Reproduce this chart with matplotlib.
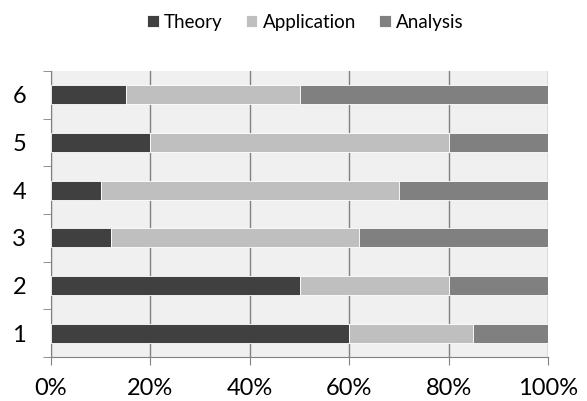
import numpy as np
import matplotlib
matplotlib.use("Agg")
import matplotlib.pyplot as plt
from matplotlib.ticker import FixedLocator, PercentFormatter

categories = ["1", "2", "3", "4", "5", "6"]
theory = [60, 50, 12, 10, 20, 15]
application = [25, 30, 50, 60, 60, 35]
analysis = [15, 20, 38, 30, 20, 50]

series = [
    ("Theory", theory, "#404040"),
    ("Application", application, "#bfbfbf"),
    ("Analysis", analysis, "#808080"),
]

plt.rcParams["font.family"] = ["Lato", "DejaVu Sans"]

fig = plt.figure(figsize=(5.87, 4.01), dpi=100)
ax = fig.add_axes([0.0869, 0.1097, 0.8467, 0.7132])
ax.set_facecolor("#f0f0f0")

y = np.arange(1, len(categories) + 1)
left = np.zeros(len(categories))
for name, vals, color in series:
    vals = np.array(vals, dtype=float)
    ax.barh(y, vals, left=left, height=0.40, color=color, label=name,
            edgecolor="#ffffff", linewidth=0.6, zorder=3)
    left += vals

ax.set_xlim(0, 100)
ax.set_ylim(0.5, len(categories) + 0.5)
ax.set_xticks([0, 20, 40, 60, 80, 100])
ax.xaxis.set_major_formatter(PercentFormatter(decimals=0))
ax.set_yticks(y)
ax.set_yticklabels(categories)
ax.yaxis.set_minor_locator(FixedLocator(np.arange(0.5, len(categories) + 1, 1)))
ax.tick_params(axis="y", which="major", length=0, pad=18, labelsize=17)
ax.tick_params(axis="y", which="minor", length=6, color="#808080")
ax.tick_params(axis="x", length=6, color="#808080", labelsize=17, pad=9)

ax.grid(True, axis="x", color="#808080", linewidth=1.0, zorder=1)
for side in ["top", "right"]:
    ax.spines[side].set_visible(False)
for side in ["left", "bottom"]:
    ax.spines[side].set_color("#808080")

ax.legend(loc="center", bbox_to_anchor=(0.512, 1.171), ncol=3, frameon=False,
          fontsize=13.5, handlelength=0.62, handleheight=0.62, handletextpad=0.3,
          columnspacing=1.22)

fig.savefig("out.png", dpi=100)
